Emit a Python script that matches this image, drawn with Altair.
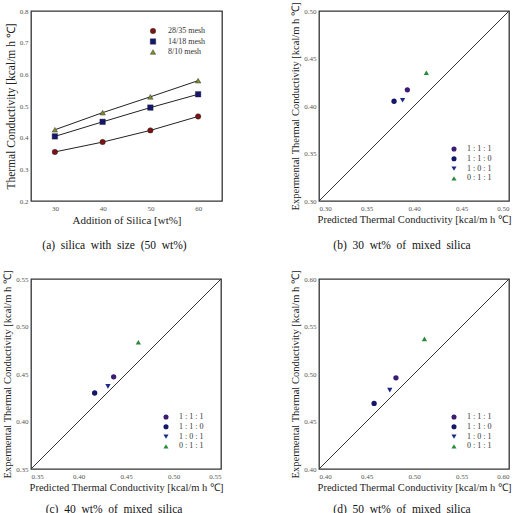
import altair as alt
import pandas as pd

SERIF = "Liberation Serif"

# ---------- panel (a) data ----------
silica_wt = [30, 40, 50, 60]
k_28_35 = [0.355, 0.386, 0.423, 0.467]
k_14_18 = [0.404, 0.450, 0.495, 0.537]
k_8_10 = [0.425, 0.479, 0.529, 0.580]
mesh_labels = ["28/35 mesh", "14/18 mesh", "\u00a0\u00a08/10 mesh"]
mesh_colors = ["#7a1414", "#16166e", "#7f8c2c"]
mesh_shapes = ["circle", "square", "triangle-up"]
a_x_ticks = [30, 40, 50, 60]
a_y_ticks = [0.2, 0.3, 0.4, 0.5, 0.6, 0.7, 0.8]

# ---------- panels (b)-(d) data ----------
ratios = ["1 : 1 : 1", "1 : 1 : 0", "1 : 0 : 1", "0 : 1 : 1"]
ratio_colors = ["#3a1c74", "#15166a", "#1c2886", "#2a8a3c"]
ratio_shapes = ["circle", "circle", "triangle-down", "triangle-up"]

pred_30 = [0.393, 0.379, 0.388, 0.413]
exp_30 = [0.417, 0.405, 0.406, 0.435]
pred_40 = [0.437, 0.417, 0.431, 0.463]
exp_40 = [0.447, 0.430, 0.437, 0.4835]
pred_50 = [0.481, 0.458, 0.4745, 0.511]
exp_50 = [0.496, 0.469, 0.483, 0.537]

range_30 = [0.30, 0.50]
range_40 = [0.35, 0.55]
range_50 = [0.40, 0.60]
ticks_30 = [0.30, 0.35, 0.40, 0.45, 0.50]
ticks_40 = [0.35, 0.40, 0.45, 0.50, 0.55]
ticks_50 = [0.40, 0.45, 0.50, 0.55, 0.60]

X_TITLE = "Predicted Thermal Conductivity [kcal/m h \u2103]"
Y_TITLE = "Expermental Thermal Conductivity [kcal/m h \u2103]"

NB = "\u00a0"


def caption(text, offset):
    return alt.TitleParams(
        text.replace(" ", NB + " "),
        orient="bottom", anchor="middle", font=SERIF, fontSize=11.5,
        fontWeight="normal", color="#111", offset=offset, dx=-12,
    )


def axis(values, fmt, title, size=10.5):
    return alt.Axis(
        values=values, format=fmt, title=title, grid=False, domain=False,
        ticks=False, labelFont=SERIF, labelFontSize=7, labelColor="#555",
        labelPadding=3, titleFont=SERIF, titleFontSize=size,
        titleFontWeight="normal", titleColor="#222", titlePadding=3,
    )


def legend():
    return alt.Legend(
        title=None, orient="none", legendX=131, legendY=134, padding=0,
        labelFont=SERIF, labelFontSize=8, labelColor="#333",
        symbolSize=26, labelOffset=9, rowPadding=1.8, symbolStrokeWidth=0,
    )


# ---------- panel (a) ----------
rows = []
for lab, vals in zip(mesh_labels, [k_28_35, k_14_18, k_8_10]):
    for w, v in zip(silica_wt, vals):
        rows.append({"wt": w, "k": v, "mesh": lab})
df_a = pd.DataFrame(rows)

xa = alt.X("wt:Q", scale=alt.Scale(domain=[25, 65], nice=False, zero=False),
           axis=axis(a_x_ticks, "d", "Addition of Silica [wt%]", 11))
ya = alt.Y("k:Q", scale=alt.Scale(domain=[0.2, 0.8], nice=False, zero=False),
           axis=axis(a_y_ticks, ".1f", "Thermal Conductivity [kcal/m h \u2103]", 11.5))

lines_a = alt.Chart(df_a).mark_line(color="#222", strokeWidth=1).encode(
    x=xa, y=ya, detail="mesh:N")
leg_a = alt.Legend(
    title=None, orient="none", legendX=118, legendY=16, padding=0,
    labelFont=SERIF, labelFontSize=8, labelColor="#333",
    symbolSize=30, labelOffset=11, rowPadding=2.5, symbolStrokeWidth=0.4,
    symbolStrokeColor="#222",
)
pts_a = alt.Chart(df_a).mark_point(filled=True, size=30, opacity=1,
                                   stroke="#222", strokeWidth=0.4).encode(
    x=xa, y=ya,
    color=alt.Color("mesh:N", scale=alt.Scale(domain=mesh_labels, range=mesh_colors), legend=leg_a),
    shape=alt.Shape("mesh:N", scale=alt.Scale(domain=mesh_labels, range=mesh_shapes), legend=leg_a),
)
panel_a = alt.layer(lines_a, pts_a).properties(
    width=191, height=190, title=caption("(a) silica with size (50 wt%)", 15))


def scatter_panel(pred, exp, rng, ticks, cap, width, offset):
    df = pd.DataFrame({"pred": pred, "exp": exp, "ratio": ratios})
    diag = pd.DataFrame({"pred": rng, "exp": rng})
    x = alt.X("pred:Q", scale=alt.Scale(domain=rng, nice=False, zero=False),
              axis=axis(ticks, ".2f", X_TITLE))
    y = alt.Y("exp:Q", scale=alt.Scale(domain=rng, nice=False, zero=False),
              axis=axis(ticks, ".2f", Y_TITLE))
    line = alt.Chart(diag).mark_line(color="#333", strokeWidth=1).encode(x=x, y=y)
    pts = alt.Chart(df).mark_point(filled=True, size=28, opacity=1).encode(
        x=x, y=y,
        color=alt.Color("ratio:N", scale=alt.Scale(domain=ratios, range=ratio_colors), legend=legend()),
        shape=alt.Shape("ratio:N", scale=alt.Scale(domain=ratios, range=ratio_shapes), legend=legend()),
    )
    return alt.layer(line, pts).properties(width=width, height=190, title=caption(cap, offset))


panel_b = scatter_panel(pred_30, exp_30, range_30, ticks_30, "(b) 30 wt% of mixed silica", 190, 15)
panel_c = scatter_panel(pred_40, exp_40, range_40, ticks_40, "(c) 40 wt% of mixed silica", 190, 11)
panel_d = scatter_panel(pred_50, exp_50, range_50, ticks_50, "(d) 50 wt% of mixed silica", 190, 11)

chart = alt.concat(
    panel_a, panel_b, panel_c, panel_d, columns=2,
    spacing=alt.RowColnumber(row=78, column=97), bounds="flush",
).resolve_scale(
    color="independent", shape="independent"
).properties(
    padding={"left": 2, "top": 1, "right": 0, "bottom": 0},
    background="white",
).configure_view(
    stroke="#333", strokeWidth=1.3
).configure_title(font=SERIF)

chart.save("out.html", embed_options={"renderer": "svg", "actions": False})
